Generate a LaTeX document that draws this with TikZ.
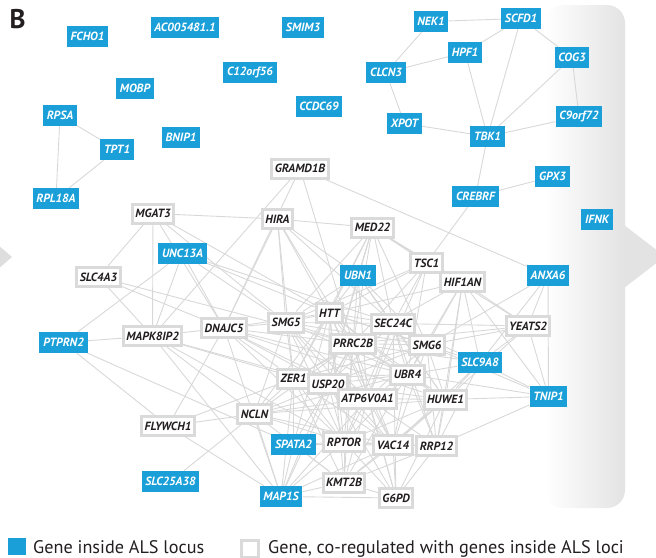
\documentclass[tikz,border=0pt]{standalone}
\usepackage{fontspec}
\setmainfont{PT Sans}
\usetikzlibrary{backgrounds}
\definecolor{alsblue}{RGB}{27,159,216}
\definecolor{boxgray}{RGB}{218,218,218}
\definecolor{edgegray}{RGB}{216,216,216}
\definecolor{txt}{RGB}{35,31,32}
\begin{document}
\begin{tikzpicture}[x=1pt,y=-1pt,
  genefont/.style={font=\fontsize{11.9}{13}\selectfont\bfseries\itshape},
  als/.style={genefont, fill=alsblue, text=white, inner xsep=3.8pt, inner ysep=0pt, minimum height=21pt},
  coreg/.style={genefont, fill=white, draw=boxgray, line width=3pt, text=txt, inner xsep=3pt, inner ysep=0pt, minimum height=19pt},
  edge/.style={draw=edgegray, line width=0.9pt}]
\useasboundingbox (0,0) rectangle (656,557);
\begin{scope}[on background layer]
  \clip (0,0) rectangle (656,557);
  \shade[left color=white, right color=black!11, rounded corners=18pt] (545,5) rectangle (625,508);
  \fill[black!11] (624,225) -- (665,256.5) -- (624,288) -- cycle;
  \fill[black!13] (-10,238) -- (12,257) -- (-10,276) -- cycle;
\end{scope}
\node[font=\fontsize{27}{28}\selectfont\bfseries, text=txt] (lbl) at (17.5,19) {B};
% ALS locus genes
\node[als] (FCHO1) at (87.5,36.5) {FCHO1};
\node[als] (AC) at (185,27.5) {AC005481.1};
\node[als] (SMIM3) at (303,27.5) {SMIM3};
\node[als] (C12) at (250,72.5) {C12orf56};
\node[als] (MOBP) at (135,88.5) {MOBP};
\node[als] (CCDC) at (319,106.5) {CCDC69};
\node[als] (RPSA) at (60,115.5) {RPSA};
\node[als] (TPT1) at (117,149.5) {TPT1};
\node[als] (BNIP1) at (181,137.5) {BNIP1};
\node[als] (RPL) at (56,198.5) {RPL18A};
\node[als] (NEK1) at (431,21.5) {NEK1};
\node[als] (SCFD1) at (521,18.5) {SCFD1};
\node[als] (HPF1) at (465,52.5) {HPF1};
\node[als] (COG3) at (572,57.5) {COG3};
\node[als] (CLCN3) at (386,72.5) {CLCN3};
\node[als] (XPOT) at (404.5,123.5) {XPOT};
\node[als] (TBK1) at (487.5,136.5) {TBK1};
\node[als] (C9) at (579,116.5) {C9orf72};
\node[als] (GPX3) at (552.5,176.5) {GPX3};
\node[als] (CREBRF) at (475.5,196.5) {CREBRF};
\node[als] (IFNK) at (597,219.5) {IFNK};
\node[als] (UNC13A) at (182.5,253.5) {UNC13A};
\node[als] (PTPRN2) at (63.5,342.5) {PTPRN2};
\node[als] (UBN1) at (358,275.5) {UBN1};
\node[als] (ANXA6) at (548,275.5) {ANXA6};
\node[als] (SLC9A8) at (480,362.5) {SLC9A8};
\node[als] (TNIP1) at (548.5,396.5) {TNIP1};
\node[als] (SPATA2) at (293.5,444.5) {SPATA2};
\node[als] (SLC25) at (170.5,481.5) {SLC25A38};
\node[als] (MAP1S) at (281,496.5) {MAP1S};
% co-regulated genes
\node[coreg] (GRAMD1B) at (300,168.5) {GRAMD1B};
\node[coreg] (MGAT3) at (153,213.5) {MGAT3};
\node[coreg] (HIRA) at (277.5,219) {HIRA};
\node[coreg] (MED22) at (372.5,227.5) {MED22};
\node[coreg] (SLC4A3) at (98.5,277) {SLC4A3};
\node[coreg] (TSC1) at (426.5,263) {TSC1};
\node[coreg] (HIF1AN) at (462.5,282) {HIF1AN};
\node[coreg] (MAPK) at (152.5,336) {MAPK8IP2};
\node[coreg] (DNAJC5) at (224,328) {DNAJC5};
\node[coreg] (SMG5) at (286,322.5) {SMG5};
\node[coreg] (HTT) at (329.5,313) {HTT};
\node[coreg] (SEC24C) at (393,323.5) {SEC24C};
\node[coreg] (YEATS2) at (528,326) {YEATS2};
\node[coreg] (PRRC2B) at (353,343.5) {PRRC2B};
\node[coreg] (SMG6) at (427,345) {SMG6};
\node[coreg] (ZER1) at (293.5,378.5) {ZER1};
\node[coreg] (USP20) at (328,384) {USP20};
\node[coreg] (UBR4) at (407.5,374.5) {UBR4};
\node[coreg] (ATP6) at (367.5,398.5) {ATP6V0A1};
\node[coreg] (HUWE1) at (445.5,399.5) {HUWE1};
\node[coreg] (NCLN) at (254.5,414) {NCLN};
\node[coreg] (FLYWCH1) at (168,426) {FLYWCH1};
\node[coreg] (RPTOR) at (344,442) {RPTOR};
\node[coreg] (VAC14) at (393,445) {VAC14};
\node[coreg] (RRP12) at (436.5,446) {RRP12};
\node[coreg] (KMT2B) at (344,482.5) {KMT2B};
\node[coreg] (G6PD) at (396,498) {G6PD};
% edges
\begin{scope}[on background layer]
\foreach \a/\b in {NEK1/SCFD1, NEK1/CLCN3, CLCN3/HPF1, HPF1/SCFD1, SCFD1/COG3, SCFD1/TBK1, HPF1/TBK1, COG3/TBK1, COG3/C9, C9/TBK1, CLCN3/XPOT, XPOT/TBK1, TBK1/CREBRF, CREBRF/GPX3, CREBRF/TSC1,
  RPSA/TPT1, RPSA/RPL, TPT1/RPL,
  GRAMD1B/MAPK, GRAMD1B/DNAJC5, GRAMD1B/PRRC2B, GRAMD1B/ANXA6,
  MGAT3/HIRA, MGAT3/SLC4A3, MGAT3/MAPK, MGAT3/DNAJC5, MGAT3/HTT, MGAT3/SMG5,
  UNC13A/MAPK, UNC13A/PTPRN2, UNC13A/DNAJC5, UNC13A/HTT, UNC13A/SEC24C, UNC13A/SMG5,
  SLC4A3/MAPK, SLC4A3/DNAJC5, SLC4A3/PRRC2B,
  PTPRN2/MAPK, PTPRN2/SPATA2, PTPRN2/FLYWCH1,
  MAPK/DNAJC5, MAPK/USP20, MAPK/ATP6, MAPK/RPTOR, MAPK/MAP1S, MAPK/NCLN,
  HIRA/MED22, HIRA/DNAJC5, HIRA/SMG5, HIRA/HTT, HIRA/PRRC2B, HIRA/ZER1, HIRA/UBN1, HIRA/SEC24C,
  MED22/TSC1, MED22/HTT, MED22/UBN1, MED22/PRRC2B, MED22/SEC24C, MED22/SMG6, MED22/SMG5, MED22/USP20, MED22/HIF1AN, MED22/YEATS2, MED22/ZER1,
  TSC1/HTT, TSC1/PRRC2B, TSC1/SEC24C, TSC1/SMG5, TSC1/ATP6, TSC1/UBR4, TSC1/HIF1AN,
  UBN1/HTT, UBN1/PRRC2B, UBN1/SEC24C, UBN1/SMG6, UBN1/USP20, UBN1/ATP6, UBN1/SMG5, UBN1/HUWE1,
  HIF1AN/SMG6, HIF1AN/PRRC2B, HIF1AN/HUWE1, HIF1AN/SLC9A8, HIF1AN/UBR4, HIF1AN/RRP12, HIF1AN/YEATS2, HIF1AN/HTT, HIF1AN/TNIP1,
  ANXA6/YEATS2, ANXA6/TNIP1, ANXA6/SMG6, ANXA6/SLC9A8,
  YEATS2/SLC9A8, YEATS2/TNIP1, YEATS2/SMG6, YEATS2/HUWE1, YEATS2/SEC24C, YEATS2/PRRC2B,
  TNIP1/HUWE1, TNIP1/RRP12, TNIP1/SMG6, TNIP1/UBR4, TNIP1/SLC9A8,
  SLC9A8/SEC24C, SLC9A8/HUWE1, SLC9A8/UBR4, SLC9A8/VAC14, SLC9A8/PRRC2B, SLC9A8/RRP12, SLC9A8/HTT,
  DNAJC5/SMG5, DNAJC5/HTT, DNAJC5/PRRC2B, DNAJC5/ZER1, DNAJC5/USP20, DNAJC5/ATP6, DNAJC5/FLYWCH1, DNAJC5/MAP1S, DNAJC5/RPTOR, DNAJC5/UBR4, DNAJC5/HUWE1,
  SMG5/HTT, SMG5/PRRC2B, SMG5/SEC24C, SMG5/ZER1, SMG5/USP20, SMG5/ATP6, SMG5/UBR4, SMG5/SMG6, SMG5/NCLN, SMG5/RPTOR, SMG5/VAC14,
  HTT/PRRC2B, HTT/SEC24C, HTT/SMG6, HTT/ZER1, HTT/USP20, HTT/UBR4, HTT/ATP6, HTT/HUWE1, HTT/RPTOR, HTT/VAC14, HTT/NCLN, HTT/SPATA2, HTT/KMT2B,
  SEC24C/PRRC2B, SEC24C/SMG6, SEC24C/UBR4, SEC24C/ATP6, SEC24C/USP20, SEC24C/HUWE1, SEC24C/ZER1, SEC24C/RPTOR, SEC24C/RRP12, SEC24C/G6PD,
  PRRC2B/SMG6, PRRC2B/ZER1, PRRC2B/USP20, PRRC2B/UBR4, PRRC2B/ATP6, PRRC2B/HUWE1, PRRC2B/RPTOR, PRRC2B/VAC14, PRRC2B/KMT2B, PRRC2B/NCLN, PRRC2B/MAP1S, PRRC2B/SPATA2, PRRC2B/G6PD,
  SMG6/UBR4, SMG6/HUWE1, SMG6/ATP6, SMG6/USP20, SMG6/VAC14, SMG6/RRP12, SMG6/ZER1,
  ZER1/USP20, ZER1/ATP6, ZER1/NCLN, ZER1/UBR4, ZER1/RPTOR, ZER1/VAC14, ZER1/MAP1S, ZER1/KMT2B, ZER1/FLYWCH1, ZER1/SPATA2,
  USP20/ATP6, USP20/UBR4, USP20/HUWE1, USP20/NCLN, USP20/RPTOR, USP20/VAC14, USP20/G6PD, USP20/MAP1S,
  UBR4/ATP6, UBR4/HUWE1, UBR4/RPTOR, UBR4/VAC14, UBR4/RRP12, UBR4/KMT2B, UBR4/NCLN,
  ATP6/HUWE1, ATP6/RPTOR, ATP6/VAC14, ATP6/RRP12, ATP6/NCLN, ATP6/KMT2B, ATP6/G6PD, ATP6/MAP1S,
  HUWE1/VAC14, HUWE1/RRP12, HUWE1/RPTOR, HUWE1/G6PD, HUWE1/NCLN, HUWE1/KMT2B,
  NCLN/FLYWCH1, NCLN/MAP1S, NCLN/SLC25, NCLN/RPTOR, NCLN/VAC14, NCLN/KMT2B,
  FLYWCH1/MAP1S,
  SPATA2/RPTOR, SPATA2/MAP1S, SPATA2/KMT2B, SPATA2/VAC14,
  RPTOR/VAC14, RPTOR/KMT2B, RPTOR/G6PD, RPTOR/MAP1S, RPTOR/RRP12,
  VAC14/RRP12, VAC14/KMT2B, VAC14/G6PD, VAC14/MAP1S,
  RRP12/G6PD, RRP12/KMT2B, KMT2B/G6PD, KMT2B/MAP1S, MAP1S/G6PD}
  \draw[edge] (\a) -- (\b);
\end{scope}
% legend
\node[fill=alsblue, minimum width=18pt, minimum height=17pt, inner sep=0pt] (legals) at (17,546.5) {};
\node[anchor=base west, font=\fontsize{18.2}{20}\selectfont, text=txt, inner sep=0pt] (legalstxt) at (33,553) {Gene inside ALS locus};
\node[fill=white, draw=boxgray, line width=3pt, minimum width=17pt, minimum height=17pt, inner sep=0pt] (legco) at (250,548.5) {};
\node[anchor=base west, font=\fontsize{18.2}{20}\selectfont, text=txt, inner sep=0pt] (legcotxt) at (268,553) {Gene, co-regulated with genes inside ALS loci};
\end{tikzpicture}
\end{document}
